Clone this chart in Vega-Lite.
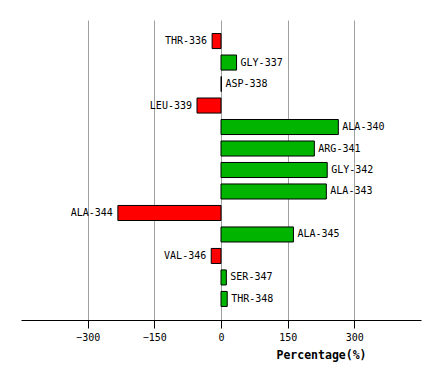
{
  "$schema": "https://vega.github.io/schema/vega-lite/v6.json",
  "width": 400,
  "height": 300,
  "autosize": "none",
  "padding": {"left": 21, "top": 20, "right": 20, "bottom": 61},
  "background": "white",
  "config": {"view": {"stroke": null}},
  "data": {
    "values": [
      {"residue": "THR-336", "value": -20},
      {"residue": "GLY-337", "value": 35},
      {"residue": "ASP-338", "value": 1},
      {"residue": "LEU-339", "value": -54},
      {"residue": "ALA-340", "value": 264},
      {"residue": "ARG-341", "value": 210},
      {"residue": "GLY-342", "value": 239},
      {"residue": "ALA-343", "value": 237},
      {"residue": "ALA-344", "value": -232},
      {"residue": "ALA-345", "value": 163},
      {"residue": "VAL-346", "value": -22},
      {"residue": "SER-347", "value": 12},
      {"residue": "THR-348", "value": 14}
    ]
  },
  "encoding": {
    "y": {
      "field": "residue",
      "type": "nominal",
      "sort": null,
      "axis": null,
      "scale": {"paddingInner": 0.3, "paddingOuter": 0.63}
    },
    "x": {
      "field": "value",
      "type": "quantitative",
      "scale": {"domain": [-450, 450], "nice": false, "zero": false},
      "axis": {
        "values": [-300, -150, 0, 150, 300],
        "title": "Percentage(%)",
        "titleFont": "DejaVu Sans Mono",
        "titleFontSize": 11.5,
        "titleFontWeight": "bold",
        "titleColor": "black",
        "titleX": 300,
        "titleY": 35,
        "titleBaseline": "middle",
        "titleAlign": "center",
        "labelFont": "DejaVu Sans Mono",
        "labelFontSize": 10,
        "labelColor": "black",
        "labelPadding": 4,
        "tickColor": "black",
        "tickSize": 8,
        "domainColor": "black",
        "grid": true,
        "gridColor": "#a0a0a0",
        "gridWidth": 1
      }
    }
  },
  "layer": [
    {
      "mark": {"type": "bar", "stroke": "black", "strokeWidth": 1},
      "encoding": {
        "color": {
          "condition": {"test": "datum.value < 0", "value": "#ff0000"},
          "value": "#00b400"
        }
      }
    },
    {
      "transform": [{"filter": "datum.value >= 0"}],
      "mark": {"type": "text", "align": "left", "dx": 4, "font": "DejaVu Sans Mono", "fontSize": 10, "fill": "black", "baseline": "middle"},
      "encoding": {"text": {"field": "residue"}}
    },
    {
      "transform": [{"filter": "datum.value < 0"}],
      "mark": {"type": "text", "align": "right", "dx": -5, "font": "DejaVu Sans Mono", "fontSize": 10, "fill": "black", "baseline": "middle"},
      "encoding": {"text": {"field": "residue"}}
    }
  ]
}
